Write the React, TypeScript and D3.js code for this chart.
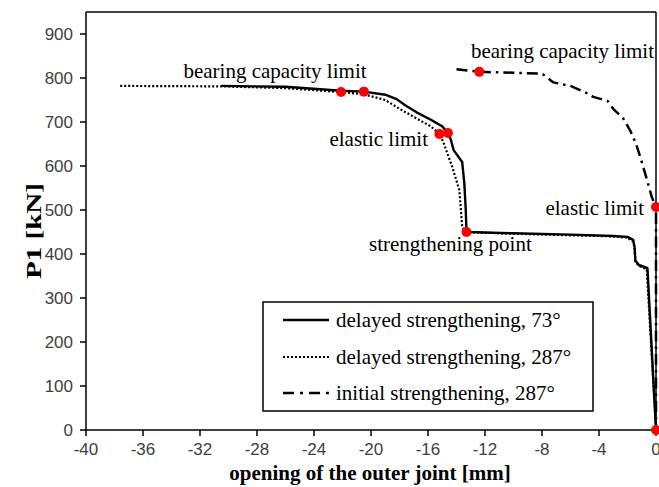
import React from "react";
import * as d3 from "d3";

// ---- data ----
const delayed73X = [-30.5, -26, -22.1, -20.5, -19, -18.2, -17.6, -16.8, -15.8, -15.0, -14.6, -14.4, -14.2, -13.6, -13.45, -13.35, -13.3, -10, -6, -3, -2.0, -1.6, -1.5, -1.45, -1.2, -0.6, 0];
const delayed73Y = [782, 780, 771, 769, 762, 752, 738, 722, 705, 690, 675, 660, 636, 609, 560, 500, 450, 447, 444, 441, 439, 432, 415, 385, 375, 368, 0];

const delayed287X = [-37.6, -30.5, -26, -22.1, -20.5, -19, -18, -16.8, -15.8, -15.2, -14.9, -14.3, -13.8, -13.6, -13.3, -10, -3, -2.0, -1.6, -1.5, -1.45, -1.2, -0.65, 0];
const delayed287Y = [782, 781, 777, 768, 763, 750, 730, 708, 690, 673, 652, 598, 545, 461, 450, 446, 440, 437, 428, 412, 383, 373, 365, 0];

const initial287X = [-14.0, -12.4, -10, -8.0, -7.6, -7.2, -6.0, -4.8, -4.4, -3.4, -3.0, -2.3, -1.8, -1.4, -1.1, -0.6, -0.3, 0, 0];
const initial287Y = [820, 814, 812, 810, 800, 790, 782, 765, 757, 748, 730, 708, 680, 650, 620, 565, 530, 507, 0];

const markerX = [-22.1, -20.5, -15.2, -14.6, -13.3, -12.4, 0, 0];
const markerY = [768, 769, 673, 675, 450, 814, 507, 0];

const xTicks = [-40, -36, -32, -28, -24, -20, -16, -12, -8, -4, 0];
const yTicks = [0, 100, 200, 300, 400, 500, 600, 700, 800, 900];

const seriesNames = ["delayed strengthening, 73°", "delayed strengthening, 287°", "initial strengthening, 287°"];

const annotations = [
  { text: "bearing capacity limit", x: 275, y: 78, anchor: "middle" },
  { text: "elastic limit", x: 428, y: 146, anchor: "end" },
  { text: "strengthening point", x: 369, y: 251, anchor: "start" },
  { text: "bearing capacity limit", x: 654, y: 58, anchor: "end" },
  { text: "elastic limit", x: 644, y: 215, anchor: "end" },
];

const W = 659;
const H = 487;
const L = 86, R = 656, T = 12, B = 430;

export default function App() {
  const x = d3.scaleLinear().domain([-40, 0]).range([L, R]);
  const y = d3.scaleLinear().domain([0, 950]).range([B, T]);
  const line = d3.line<[number, number]>().x(d => x(d[0])).y(d => y(d[1]));
  const zip = (xs: number[], ys: number[]) => xs.map((v, i) => [v, ys[i]] as [number, number]);

  const styles = [
    { dash: undefined as string | undefined, width: 2.4 },
    { dash: "2 2", width: 2.2 },
    { dash: "11 5 2.5 5", width: 2.5 },
  ];
  const data = [zip(delayed73X, delayed73Y), zip(delayed287X, delayed287Y), zip(initial287X, initial287Y)];

  const serif = "'Liberation Serif', 'Times New Roman', serif";
  const sans = "'Liberation Sans', Arial, sans-serif";

  const legendRows = [320, 357, 393];

  return (
    <svg width={W} height={H} style={{ position: "absolute", left: 0, top: 0, background: "#fff" }}>
      <rect x={0} y={0} width={W} height={H} fill="#fff" />
      {/* frame */}
      <line x1={L} y1={T} x2={R} y2={T} stroke="#000" strokeWidth={1.5} />
      <line x1={R} y1={T} x2={R} y2={B} stroke="#000" strokeWidth={1.5} />
      <line x1={L} y1={T} x2={L} y2={B} stroke="#000" strokeWidth={1.5} />
      <line x1={L} y1={B} x2={R} y2={B} stroke="#000" strokeWidth={1.5} />
      {/* y ticks */}
      {yTicks.map(t => (
        <g key={"y" + t}>
          <line x1={L - 6} x2={L} y1={y(t)} y2={y(t)} stroke="#000" strokeWidth={1.5} />
          <text x={73} y={y(t)} dy="0.36em" textAnchor="end" fontFamily={sans} fontSize={17} fill="#404040">{t}</text>
        </g>
      ))}
      {/* x ticks */}
      {xTicks.map(t => (
        <g key={"x" + t}>
          <line x1={x(t)} x2={x(t)} y1={B} y2={B + 6} stroke="#000" strokeWidth={1.5} />
          <text x={x(t)} y={455} textAnchor="middle" fontFamily={sans} fontSize={17} fill="#404040">{t}</text>
        </g>
      ))}
      {/* axis titles */}
      <text x={370} y={480} textAnchor="middle" fontFamily={serif} fontWeight="bold" fontSize={21} fill="#000">opening of the outer joint [mm]</text>
      <text transform="translate(41,231) rotate(-90)" textAnchor="middle" fontFamily={serif} fontWeight="bold" fontSize={21} fill="#000" textLength={96} lengthAdjust="spacingAndGlyphs">P1 [kN]</text>
      {/* series */}
      {data.map((d, i) => (
        <path key={"s" + i} d={line(d) || ""} fill="none" stroke="#000" strokeWidth={styles[i].width} strokeDasharray={styles[i].dash} strokeLinejoin="round" />
      ))}
      {/* markers */}
      {markerX.map((mx, i) => (
        <circle key={"m" + i} cx={x(mx)} cy={y(markerY[i])} r={5} fill="#ff0000" />
      ))}
      {/* annotations */}
      {annotations.map((a, i) => (
        <text key={"a" + i} x={a.x} y={a.y} textAnchor={a.anchor as any} fontFamily={serif} fontSize={21} fill="#000">{a.text}</text>
      ))}
      {/* legend */}
      <rect x={263} y={302} width={330} height={109} fill="#fff" stroke="#000" strokeWidth={1.5} />
      {seriesNames.map((n, i) => (
        <g key={"l" + i}>
          <line x1={283} x2={329} y1={legendRows[i]} y2={legendRows[i]} stroke="#000" strokeWidth={styles[i].width} strokeDasharray={i === 2 ? "11 6 3 6" : styles[i].dash} />
          <text x={336} y={legendRows[i] + 7} fontFamily={serif} fontSize={21} fill="#000">{n}</text>
        </g>
      ))}
    </svg>
  );
}
